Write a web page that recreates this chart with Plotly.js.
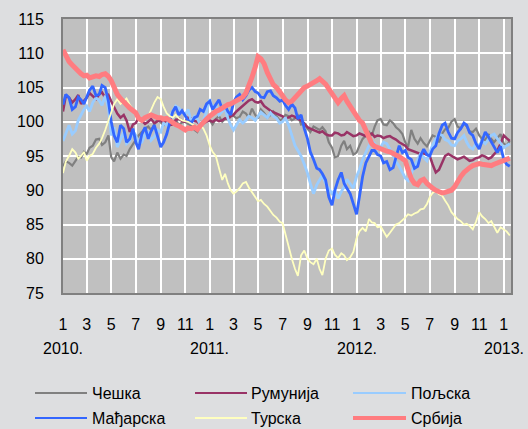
<!DOCTYPE html>
<html>
<head>
<meta charset="utf-8">
<script src="https://cdn.plot.ly/plotly-3.0.1.min.js"></script>
<style>
html,body{margin:0;padding:0;background:#dddee0;}
#chart{width:528px;height:429px;}
</style>
</head>
<body>
<div id="chart"></div>
<script>
// ---- data ----
const dates = (
 '2010-01-01 2010-01-08 2010-01-16 2010-01-24 2010-02-01 2010-02-08 2010-02-15 2010-02-22 2010-03-01 2010-03-08 2010-03-16 2010-03-24 ' +
 '2010-04-01 2010-04-08 2010-04-16 2010-04-24 2010-05-01 2010-05-08 2010-05-16 2010-05-24 2010-06-01 2010-06-08 2010-06-16 2010-06-24 ' +
 '2010-07-01 2010-07-08 2010-07-16 2010-07-24 2010-08-01 2010-08-08 2010-08-16 2010-08-24 2010-09-01 2010-09-08 2010-09-16 2010-09-24 ' +
 '2010-10-01 2010-10-08 2010-10-16 2010-10-24 2010-11-01 2010-11-08 2010-11-16 2010-11-24 2010-12-01 2010-12-08 2010-12-16 2010-12-24 ' +
 '2011-01-01 2011-01-08 2011-01-16 2011-01-24 2011-02-01 2011-02-08 2011-02-15 2011-02-22 2011-03-01 2011-03-08 2011-03-16 2011-03-24 ' +
 '2011-04-01 2011-04-08 2011-04-16 2011-04-24 2011-05-01 2011-05-08 2011-05-16 2011-05-24 2011-06-01 2011-06-08 2011-06-16 2011-06-24 ' +
 '2011-07-01 2011-07-08 2011-07-16 2011-07-24 2011-08-01 2011-08-08 2011-08-16 2011-08-24 2011-09-01 2011-09-08 2011-09-16 2011-09-24 ' +
 '2011-10-01 2011-10-08 2011-10-16 2011-10-24 2011-11-01 2011-11-08 2011-11-16 2011-11-24 2011-12-01 2011-12-08 2011-12-16 2011-12-24 ' +
 '2012-01-01 2012-01-08 2012-01-16 2012-01-24 2012-02-01 2012-02-08 2012-02-15 2012-02-22 2012-03-01 2012-03-08 2012-03-16 2012-03-24 ' +
 '2012-04-01 2012-04-08 2012-04-16 2012-04-24 2012-05-01 2012-05-08 2012-05-16 2012-05-24 2012-06-01 2012-06-08 2012-06-16 2012-06-24 ' +
 '2012-07-01 2012-07-08 2012-07-16 2012-07-24 2012-08-01 2012-08-08 2012-08-16 2012-08-24 2012-09-01 2012-09-08 2012-09-16 2012-09-24 ' +
 '2012-10-01 2012-10-08 2012-10-16 2012-10-24 2012-11-01 2012-11-08 2012-11-16 2012-11-24 2012-12-01 2012-12-08 2012-12-16 2012-12-24 ' +
 '2013-01-01 2013-01-08 2013-01-16').split(' ');

const cesko = [
 93.5,94.2, 94.0,93.6, 94.3,94.9, 94.8,95.6, 95.3,96.2, 96.5,97.4, 97.5,96.6, 97.0,98.0, 94.8,94.2, 95.5,94.6,
 95.2,95.0, 96.0,96.8, 97.5,98.0, 98.5,99.0, 99.3,98.8, 99.6,100.3, 99.9,99.5, 100.2,100.0, 99.8,100.3, 99.5,99.9,
 100.0,99.7, 99.4,98.8, 98.5,99.5, 99.8,100.3, 100.2,99.6, 100.4,100.8, 100.0,100.4, 100.6,101.2, 100.9,100.5, 100.7,101.5,
 101.2,100.6, 101.9,101.0, 100.5,101.8, 101.3,100.6, 101.0,101.5, 100.8,100.2, 100.4,101.0, 100.8,100.2, 100.5,100.9, 99.6,99.8,
 99.0,98.5, 99.3,99.0, 98.8,99.2, 98.6,97.0, 96.2,94.8, 95.0,96.5, 97.2,96.0, 96.5,95.2, 95.5,96.5, 97.5,98.0,
 98.5,98.0, 99.3,100.2, 100.4,99.6, 99.5,100.2, 99.8,99.2, 98.8,98.2, 97.0,96.3, 98.8,97.5, 96.8,97.6, 96.9,96.4,
 97.2,98.0, 97.8,97.0, 98.3,98.9, 99.1,100.0, 100.4,99.3, 99.0,99.8, 99.3,98.6, 98.5,99.0, 98.0,97.5, 97.3,98.2,
 97.5,97.0, 97.6,98.2, 96.8,96.5, 97.2];

const rumunija = [
 101.5,103.8, 103.5,102.8, 103.3,103.9, 102.6,103.0, 103.5,104.2, 103.8,103.3, 104.0,104.3, 103.5,103.9, 103.0,102.2, 101.2,100.6,
 101.0,100.2, 98.5,99.6, 99.8,100.6, 100.2,99.7, 100.0,100.4, 99.8,100.1, 100.3,99.8, 100.2,99.5, 99.6,100.2, 100.5,100.1,
 100.0,100.6, 100.5,100.1, 100.0,99.6, 99.8,100.1, 100.2,100.0, 100.3,100.1, 100.2,100.5, 100.4,100.8, 101.0,101.5, 101.9,102.3,
 102.7,103.1, 103.3,102.9, 102.8,103.0, 102.3,101.9, 101.6,101.4, 101.2,100.9, 100.8,100.4, 100.6,100.9, 100.7,100.4, 100.2,99.7,
 99.2,99.0, 98.8,98.5, 98.4,98.6, 98.2,98.0, 98.0,98.4, 98.3,98.0, 98.1,98.5, 98.2,97.9, 98.0,98.3, 98.1,97.9,
 98.0,98.3, 97.8,98.0, 97.9,97.6, 97.8,97.9, 97.6,97.4, 97.0,96.7, 96.5,96.0, 95.8,95.6, 95.5,95.3, 95.4,95.2,
 95.0,93.8, 92.6,93.0, 94.0,95.0, 95.3,95.0, 94.8,94.5, 94.7,94.9, 94.6,94.3, 94.4,94.7, 94.8,95.1, 94.9,94.6,
 94.8,95.2, 95.8,96.8, 98.0,97.6, 97.2];

const poljska = [
 97.2,98.3, 99.5,98.2, 98.7,100.2, 101.0,101.8, 102.3,101.5, 102.8,103.5, 103.1,102.4, 103.8,102.0, 98.0,99.2, 96.3,97.5,
 98.5,96.8, 97.2,98.6, 98.0,96.8, 97.0,98.2, 98.5,97.3, 97.8,98.8, 98.5,99.8, 99.5,100.8, 101.5,102.3, 102.0,101.4,
 101.0,101.8, 100.0,100.8, 100.5,99.6, 100.2,101.5, 103.3,102.0, 102.5,101.0, 101.5,102.0, 100.5,99.5, 98.8,99.6, 100.3,99.8,
 100.2,100.8, 100.6,100.2, 100.9,101.4, 101.0,100.6, 101.3,100.8, 100.5,99.8, 100.0,100.6, 99.5,98.0, 96.5,95.8, 95.0,93.8,
 92.5,91.0, 89.5,90.8, 91.5,92.2, 91.0,90.2, 89.5,90.0, 88.8,89.8, 90.5,91.6, 91.0,90.3, 92.0,93.0, 94.5,95.6,
 96.5,97.2, 96.8,96.0, 96.3,97.0, 96.8,96.0, 95.0,94.2, 93.5,92.6, 91.8,91.4, 92.5,93.5, 94.5,95.3, 94.8,94.3,
 95.5,96.6, 97.5,98.2, 98.0,97.4, 97.2,96.6, 96.5,97.2, 97.5,98.0, 97.0,96.3, 96.0,96.8, 96.5,97.2, 96.8,97.5,
 98.0,98.2, 97.5,96.8, 96.2,96.5, 96.8];

const madjarska = [
 102.5,104.0, 103.5,101.8, 102.2,103.6, 103.2,102.6, 103.6,104.6, 105.2,103.8, 104.0,105.3, 105.0,103.0, 100.0,98.0, 97.0,99.5,
 99.0,97.0, 97.5,99.0, 97.0,96.0, 98.2,99.2, 97.5,98.6, 99.5,98.0, 96.3,97.0, 98.2,100.0, 101.5,102.2, 101.0,101.6,
 100.8,100.2, 99.8,100.6, 100.8,101.8, 101.5,102.6, 103.0,101.8, 102.5,103.2, 101.8,102.4, 101.5,101.0, 102.8,103.6, 104.0,103.2,
 103.8,104.6, 105.0,104.4, 104.2,103.6, 103.5,104.4, 104.5,103.8, 103.5,103.0, 103.2,102.4, 101.8,102.6, 102.0,100.4, 101.0,99.0,
 97.5,95.6, 94.5,93.2, 93.0,92.4, 91.5,89.0, 87.8,90.0, 91.5,92.6, 91.0,90.2, 89.5,88.0, 86.5,89.0, 92.0,94.0,
 95.0,95.8, 95.8,95.2, 95.0,94.0, 94.2,93.0, 93.3,95.0, 96.5,95.5, 95.8,94.8, 94.5,93.2, 93.5,95.0, 96.0,95.2,
 95.0,96.0, 96.5,98.3, 99.5,99.8, 98.5,97.6, 97.5,98.4, 99.0,99.8, 99.5,98.4, 98.0,96.8, 96.0,97.2, 98.5,97.8,
 97.0,96.2, 95.5,96.4, 94.5,93.8, 93.5];

const turska = [
 92.5,94.2, 95.0,96.0, 95.5,94.6, 95.0,95.6, 94.3,95.0, 95.3,96.2, 96.8,97.6, 98.8,100.2, 101.5,102.6, 103.3,102.6,
 103.0,103.4, 102.5,101.8, 101.5,100.6, 100.0,100.6, 100.8,101.8, 102.8,103.6, 103.3,102.2, 101.2,100.8, 100.6,101.0, 100.5,100.2,
 100.1,100.0, 99.7,99.4, 99.2,99.5, 99.0,98.0, 96.5,95.6, 95.0,93.2, 91.5,92.4, 91.0,90.0, 89.5,89.8, 90.3,91.0,
 91.2,90.4, 89.7,89.0, 88.4,88.6, 88.0,87.6, 87.0,86.4, 86.0,85.4, 85.2,83.5, 81.5,80.0, 78.5,77.5, 80.5,81.2,
 80.0,79.5, 79.2,80.0, 78.5,77.6, 80.0,81.2, 81.5,80.6, 80.1,80.8, 80.5,79.8, 80.2,81.0, 83.0,84.0, 84.5,84.0,
 85.8,85.3, 85.2,84.6, 84.7,84.0, 83.2,83.8, 84.5,85.0, 85.2,85.6, 86.0,86.5, 86.3,86.6, 86.8,87.2, 87.3,88.0,
 89.0,89.6, 89.9,89.4, 89.2,88.5, 87.8,86.8, 86.3,85.8, 85.5,85.0, 85.1,84.8, 84.3,85.4, 86.8,86.2, 85.8,85.2,
 85.5,84.6, 83.8,84.6, 84.3,84.0, 83.4];

const srbija = [
 110.5,109.5, 108.8,108.3, 107.8,107.3, 107.0,106.7, 106.8,106.4, 106.5,106.7, 106.6,106.9, 107.0,106.6, 106.0,105.0, 104.0,103.4,
 102.8,102.5, 102.0,101.7, 101.3,100.5, 100.2,100.6, 100.9,101.0, 100.8,100.6, 100.6,100.4, 100.5,100.1, 99.8,99.6, 99.4,99.0,
 98.8,99.1, 99.0,99.2, 98.9,99.4, 100.0,100.4, 100.8,101.2, 101.5,101.7, 102.0,102.3, 102.5,102.6, 102.8,103.0, 103.3,103.6,
 104.2,105.2, 106.5,108.0, 109.5,109.2, 108.5,107.2, 106.0,105.4, 105.0,104.2, 103.8,103.2, 102.8,103.0, 103.5,104.0, 104.6,105.0,
 105.2,105.4, 105.6,106.0, 106.3,106.0, 105.5,104.8, 104.0,103.4, 102.8,103.4, 103.8,103.0, 102.3,101.4, 100.6,100.2, 99.8,98.6,
 97.5,96.8, 96.4,96.2, 96.0,95.8, 95.7,95.6, 95.4,95.1, 94.9,94.6, 94.3,93.0, 91.7,91.0, 90.8,91.4, 91.6,91.0,
 90.6,90.3, 90.0,89.8, 89.6,89.7, 89.8,90.0, 90.5,91.3, 92.0,92.6, 93.0,93.3, 93.6,93.8, 93.9,93.8, 93.7,93.6,
 93.6,93.8, 94.0,94.2, 94.3,94.5, 94.7];

const seriesNames = ['Чешка','Румунија','Пољска','Мађарска','Турска','Србија'];
const tickVals = ['2010-01-01','2010-03-01','2010-05-01','2010-07-01','2010-09-01','2010-11-01',
 '2011-01-01','2011-03-01','2011-05-01','2011-07-01','2011-09-01','2011-11-01',
 '2012-01-01','2012-03-01','2012-05-01','2012-07-01','2012-09-01','2012-11-01','2013-01-01'];
const tickText = ['1','3','5','7','9','11','1','3','5','7','9','11','1','3','5','7','9','11','1'];
const yearPos = ['2010-01-01','2011-01-01','2012-01-01','2013-01-01'];
const yearText = ['2010.','2011.','2012.','2013.'];

// ---- styles ----
const seriesData = [cesko, rumunija, poljska, madjarska, turska, srbija];
const colors = ['#808080','#993366','#99ccff','#3366ff','#ffffc0','#ff7c80'];
const widths = [2.2,2.5,2.8,2.8,1.8,5];

const W = 528, H = 429;
const M = {l:63, r:17, t:19, b:136};
const PW = W - M.l - M.r, PH = H - M.t - M.b;
const px = x => (x - M.l) / PW;
const py = y => (H - M.b - y) / PH;

const traces = seriesData.map((ys, i) => ({
  x: dates, y: ys, type: 'scatter', mode: 'lines', name: seriesNames[i],
  line: {color: colors[i], width: widths[i]}, showlegend: false, hoverinfo: 'skip'
}));

const annotations = yearPos.map((d, i) => ({
  x: d, xref: 'x', y: py(348), yref: 'paper', text: yearText[i], showarrow: false,
  xanchor: 'center', yanchor: 'middle', font: {size: 16, color: '#000'}
}));

const shapes = [{
  type: 'line', xref: 'paper', x0: 0, x1: 1, yref: 'y', y0: 100, y1: 100,
  line: {color: '#808080', width: 2}, layer: 'below'
}];

// manual legend (3 columns x 2 rows)
const legCols = [[35, 87, 90], [195, 247, 249], [353, 406, 409]];
const legRows = [393, 418];
seriesNames.forEach((nm, i) => {
  const c = legCols[i % 3], r = legRows[Math.floor(i / 3)];
  shapes.push({type: 'line', xref: 'paper', yref: 'paper', x0: px(c[0]), x1: px(c[1]), y0: py(r), y1: py(r),
    line: {color: colors[i], width: i === 5 ? 4 : 2.2}});
  annotations.push({x: px(c[2]), xref: 'paper', y: py(r), yref: 'paper', text: nm, showarrow: false,
    xanchor: 'left', yanchor: 'middle', font: {size: 16, color: '#000'}});
});

const layout = {
  width: W, height: H,
  margin: {l: M.l, r: M.r, t: M.t, b: M.b, pad: 0},
  paper_bgcolor: '#dddee0', plot_bgcolor: '#c0c0c0',
  font: {family: '"Liberation Sans", Arial, sans-serif', size: 16, color: '#000'},
  showlegend: false,
  xaxis: {
    type: 'date', range: ['2010-01-01', '2013-01-19'], autorange: false,
    tickmode: 'array', tickvals: tickVals, ticktext: tickText,
    showgrid: true, gridcolor: '#ffffff', gridwidth: 2,
    showline: true, mirror: true, linecolor: '#808080', linewidth: 2,
    ticks: '', zeroline: false, tickfont: {size: 16, color: '#000'}, ticklabelstandoff: 16
  },
  yaxis: {
    range: [75, 115], autorange: false, tickmode: 'linear', tick0: 75, dtick: 5,
    showgrid: true, gridcolor: '#ffffff', gridwidth: 2,
    showline: true, mirror: true, linecolor: '#808080', linewidth: 2,
    ticks: '', zeroline: false, tickfont: {size: 16, color: '#000'}, ticklabelstandoff: 14
  },
  annotations: annotations,
  shapes: shapes
};

Plotly.newPlot('chart', traces, layout, {displayModeBar: false, staticPlot: true});
</script>
</body>
</html>
